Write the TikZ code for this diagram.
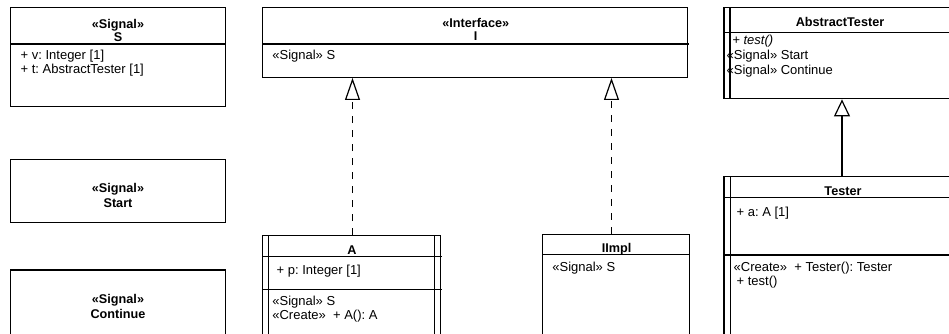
\documentclass[tikz,border=0pt]{standalone}
\usepackage{fontspec}
\setmainfont{Liberation Sans}
\usetikzlibrary{arrows.meta,fit}
\frenchspacing
\begin{document}
\begin{tikzpicture}[x=0.75pt,y=-0.75pt,
  line width=1pt,
  umlbox/.style={draw,line width=1pt,inner sep=0pt,rectangle},
  txt/.style={inner sep=0pt,font=\fontsize{9.75pt}{11pt}\selectfont},
  ltxt/.style={txt,anchor=base west},
  ctxt/.style={txt,anchor=base,font=\fontsize{9.5pt}{11pt}\selectfont\bfseries},
  realize/.style={draw,dash pattern=on 5.25pt off 5.25pt,
    -{Triangle[open,length=16.5pt,width=11.25pt,line width=0.9pt]}},
  generalize/.style={draw,
    -{Triangle[open,length=12.75pt,width=12pt,line width=0.9pt]}}]
\useasboundingbox (0,0) rectangle (949,333);

% S
\node[umlbox,fit={(10.7,7.5) (225.7,106.7)}] (S) {};
\draw (10.7,44) -- (225.7,44);
\node[ctxt] (Sst) at (118,28) {«Signal»};
\node[ctxt] (Sn) at (118,41.4) {S};
\node[ltxt] (Sv) at (20,59.7) {+ v: Integer [1]};
\node[ltxt] (St) at (20,73.2) {+ t: AbstractTester [1]};

% Start
\node[umlbox,fit={(10.7,159.3) (225.7,222.3)}] (Start) {};
\node[ctxt] (Startst) at (118,192.4) {«Signal»};
\node[ctxt] (Startn) at (118,207.4) {Start};

% Continue
\node[umlbox,fit={(10.7,270) (225.7,345)}] (Cont) {};
\node[ctxt] (Contst) at (118,303) {«Signal»};
\node[ctxt] (Contn) at (118,318) {Continue};

% Interface I
\node[umlbox,fit={(262.7,7.5) (687.7,77.3)}] (I) {};
\draw (262.7,44) -- (689,44);
\node[ctxt] (Ist) at (475.7,27.4) {«Interface»};
\node[ctxt] (In) at (475.7,40.2) {I};
\node[ltxt] (Is) at (271.7,59.7) {«Signal» S};

% AbstractTester
\node[umlbox,fit={(724,7.5) (960,98.7)}] (AT) {};
\draw (730,7.5) -- (730,98.7);
\draw (724,32.7) -- (960,32.7);
\node[ctxt] (ATn) at (840,26.4) {AbstractTester};
\node[ltxt] (ATt) at (731.7,44.7) {\itshape + test()};
\node[ltxt] (ATs) at (726,59) {«Signal» Start};
\node[ltxt] (ATc) at (726,74.7) {«Signal» Continue};

% Tester
\node[umlbox,fit={(724,176.7) (960,345)}] (T) {};
\draw (730.5,176.7) -- (730.5,345);
\draw (724,197.7) -- (960,197.7);
\draw (724,255) -- (960,255);
\node[ctxt] (Tn) at (843,195.4) {Tester};
\node[ltxt] (Ta) at (736,216.4) {+ a: A [1]};
\node[ltxt] (Tc) at (733,271.4) {«Create»\ \ + Tester(): Tester};
\node[ltxt] (Tt) at (736,285.7) {+ test()};

% A
\node[umlbox,fit={(262.3,235.7) (440.7,345)}] (A) {};
\draw (268.3,235.7) -- (268.3,345);
\draw (434.3,235.7) -- (434.3,345);
\draw (262.3,256.7) -- (441.5,256.7);
\draw (262.3,289.3) -- (441.5,289.3);
\node[ctxt] (An) at (352,254) {A};
\node[ltxt] (Ap) at (276,274.7) {+ p: Integer [1]};
\node[ltxt] (As) at (271.7,305.7) {«Signal» S};
\node[ltxt] (Ac) at (271.7,319.7) {«Create»\ \ + A(): A};

% IImpl
\node[umlbox,fit={(542.3,234.3) (689.3,345)}] (II) {};
\draw (542.3,254.3) -- (690,254.3);
\node[ctxt] (IIn) at (616.7,252.4) {IImpl};
\node[ltxt] (IIs) at (551.7,271.4) {«Signal» S};

% connectors
\draw[realize] (352.5,0 |- A.north) -- (352.5,0 |- I.south);
\draw[realize] (611.5,0 |- II.north) -- (611.5,0 |- I.south);
\draw[generalize] (T.north) -- (T.north |- AT.south);
\end{tikzpicture}
\end{document}
